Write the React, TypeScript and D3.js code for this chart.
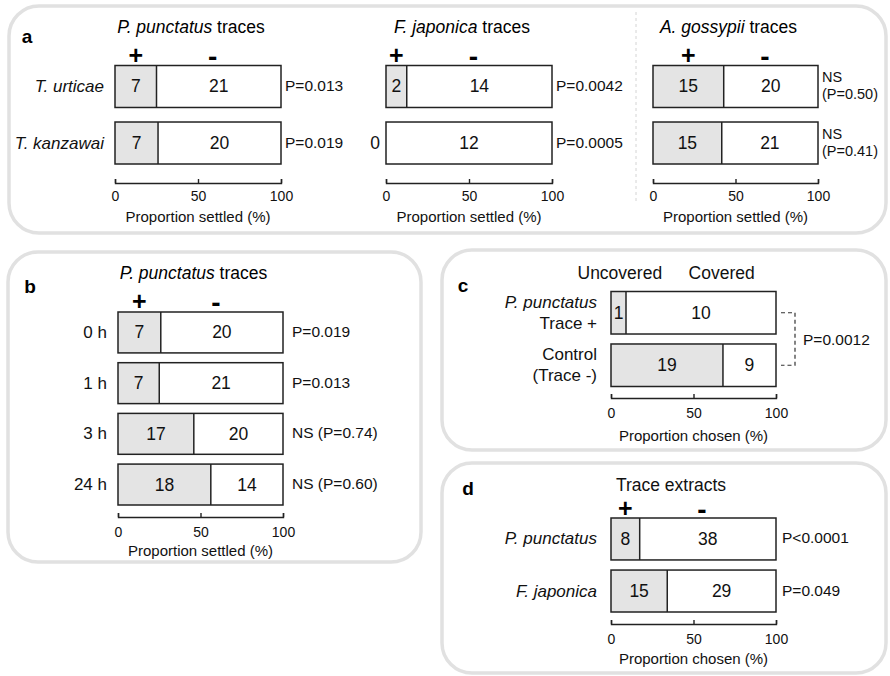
import React, { useEffect, useRef } from 'react';
import * as d3 from 'd3';

const FONT = '"Liberation Sans", Arial, Helvetica, sans-serif';

// panel a: three trace types x two mite species
const aTitles = ['P. punctatus', 'F. japonica', 'A. gossypii'];
const aSpecies = ['T. urticae', 'T. kanzawai'];
const aPlus = [[7, 7], [2, 0], [15, 15]];
const aMinus = [[21, 20], [14, 12], [20, 21]];
const aPvals = [
  [['P=0.013'], ['P=0.019']],
  [['P=0.0042'], ['P=0.0005']],
  [['NS', '(P=0.50)'], ['NS', '(P=0.41)']],
];

// panel b: age of traces
const bTimes = ['0 h', '1 h', '3 h', '24 h'];
const bPlus = [7, 7, 17, 18];
const bMinus = [20, 21, 20, 14];
const bPvals = ['P=0.019', 'P=0.013', 'NS (P=0.74)', 'NS (P=0.60)'];

// panel c: uncovered vs covered
const cRows = [['P. punctatus', 'Trace +'], ['Control', '(Trace -)']];
const cUncovered = [1, 19];
const cCovered = [10, 9];
const cPval = 'P=0.0012';

// panel d: trace extracts
const dRows = ['P. punctatus', 'F. japonica'];
const dPlus = [8, 15];
const dMinus = [38, 29];
const dPvals = ['P<0.0001', 'P=0.049'];

const tickValues = [0, 50, 100];

const STROKE = '#222';
const GREY = '#e4e4e4';

const isSpecies = (s: string) => /^[A-Z]\. [a-z]/.test(s);

function Axis({ x, y, pad }: { x: d3.ScaleLinear<number, number>; y: number; pad: number }) {
  const ref = useRef<SVGGElement>(null);
  useEffect(() => {
    const g = d3.select(ref.current);
    g.selectAll('*').remove();
    g.call(
      d3.axisBottom(x).tickValues(tickValues).tickSizeInner(-4).tickSizeOuter(-4).tickPadding(pad) as any
    );
    g.attr('font-family', null).attr('font-size', null);
    g.select('.domain').attr('stroke', STROKE).attr('stroke-width', 1.4);
    g.selectAll('.tick line').attr('stroke', STROKE).attr('stroke-width', 1.4);
    g.selectAll('.tick text').attr('font-family', FONT).attr('font-size', 14).attr('fill', '#111');
  }, [x, y, pad]);
  return <g ref={ref} transform={`translate(0,${y})`} />;
}

type StackProps = {
  x0: number; x1: number; y0: number; y1: number; pad: number;
  first: number[]; second: number[];
  labels?: string[][]; labelGap?: number; lineGap?: number;
  pvals: string[][]; pGap: number;
  axisY: number; tickPad: number;
  xlabel: string; xlabelY: number;
  signs?: boolean; signY?: number;
  title?: string; titleX?: number; titleY?: number;
  children?: (x: d3.ScaleLinear<number, number>, y: d3.ScaleBand<string>) => React.ReactNode;
};

function Stack(p: StackProps) {
  const x = d3.scaleLinear().domain([0, 100]).range([p.x0, p.x1]);
  const keys = p.first.map((_, i) => String(i));
  const y = d3.scaleBand().domain(keys).range([p.y0, p.y1]).paddingInner(p.pad);
  const h = y.bandwidth();
  const share = (i: number) => (p.first[i] / (p.first[i] + p.second[i])) * 100;
  const lineGap = p.lineGap ?? 21;

  return (
    <g fontFamily={FONT}>
      {p.title && (
        <text x={p.titleX ?? (p.x0 + p.x1) / 2 - 7} y={p.titleY} textAnchor="middle" dominantBaseline="central" fontSize={17.5}>
          <tspan fontStyle="italic">{p.title}</tspan> traces
        </text>
      )}
      {p.signs && (
        <g fontWeight="bold" textAnchor="middle" dominantBaseline="central">
          <text x={(x(0) + x(share(0))) / 2} y={p.signY} fontSize={25}>+</text>
          <text x={(x(share(0)) + x(100)) / 2 - 6} y={p.signY + 1} fontSize={28}>-</text>
        </g>
      )}
      {keys.map((k, i) => {
        const top = y(k)!;
        const cy = top + h / 2;
        const s = share(i);
        const lab = p.labels ? p.labels[i] : [];
        const pv = p.pvals[i];
        return (
          <g key={k}>
            <rect x={x(0)} y={top} width={x(s) - x(0)} height={h} fill={GREY} />
            <rect x={x(s)} y={top} width={x(100) - x(s)} height={h} fill="#fff" />
            <rect x={x(0)} y={top} width={x(100) - x(0)} height={h} fill="none" stroke={STROKE} strokeWidth={1.5} />
            {p.first[i] > 0 && <line x1={x(s)} x2={x(s)} y1={top} y2={top + h} stroke={STROKE} strokeWidth={1.5} />}
            <g fontSize={17.5} dominantBaseline="central" textAnchor="middle" fill="#111">
              {p.first[i] > 0 ? (
                <text x={(x(0) + x(s)) / 2} y={cy}>{p.first[i]}</text>
              ) : (
                <text x={x(0) - 6} y={cy} textAnchor="end">{p.first[i]}</text>
              )}
              <text x={(x(s) + x(100)) / 2} y={cy}>{p.second[i]}</text>
            </g>
            {lab.map((t, j) => (
              <text key={j} x={x(0) - (p.labelGap ?? 11)} y={cy + (j - (lab.length - 1) / 2) * lineGap}
                textAnchor="end" dominantBaseline="central" fontSize={17}
                fontStyle={isSpecies(t) ? 'italic' : 'normal'} fill="#111">{t}</text>
            ))}
            {pv.map((t, j) => (
              <text key={j} x={x(100) + p.pGap} y={cy - 1 + (j - (pv.length - 1) / 2) * 17}
                dominantBaseline="central" fontSize={pv.length > 1 ? 14.5 : 15.5} fill="#111">{t}</text>
            ))}
          </g>
        );
      })}
      <Axis x={x} y={p.axisY} pad={p.tickPad} />
      <text x={(p.x0 + p.x1) / 2} y={p.xlabelY} textAnchor="middle" dominantBaseline="central" fontSize={15} fill="#111">
        {p.xlabel}
      </text>
      {p.children && p.children(x, y)}
    </g>
  );
}

const boxStyle = { fill: 'none', stroke: '#e1e1e1', strokeWidth: 3.5 };

const Letter = ({ x, y, t }: { x: number; y: number; t: string }) => (
  <text x={x} y={y} fontFamily={FONT} fontWeight="bold" fontSize={19} dominantBaseline="central" textAnchor="middle">{t}</text>
);

export default function App() {
  const aX = [[115, 281], [386, 552], [653, 818]];
  return (
    <svg width={890} height={676} style={{ position: 'absolute', left: 0, top: 0, background: '#fff' }}>
      {/* panel frames */}
      <rect x={9} y={6} width={877} height={227} rx={30} {...boxStyle} />
      <rect x={8} y={252} width={413} height={310} rx={30} {...boxStyle} />
      <rect x={442} y={250} width={444} height={200} rx={30} {...boxStyle} />
      <rect x={442} y={463} width={444} height={210} rx={30} {...boxStyle} />
      <line x1={636} x2={636} y1={12} y2={202} stroke="#d4d4d4" strokeDasharray="3,3" strokeWidth={1} />

      <Letter x={27} y={36} t="a" />
      <Letter x={30} y={286} t="b" />
      <Letter x={463} y={285} t="c" />
      <Letter x={468} y={488} t="d" />

      {aTitles.map((t, g) => (
        <Stack key={t} x0={aX[g][0]} x1={aX[g][1]} y0={65.5} y1={164} pad={0.257}
          first={aPlus[g]} second={aMinus[g]}
          labels={g === 0 ? aSpecies.map((s) => [s]) : undefined}
          pvals={aPvals[g]} pGap={4}
          axisY={183} tickPad={8} xlabel="Proportion settled (%)" xlabelY={216}
          signs signY={55} title={t} titleY={27} />
      ))}

      <Stack x0={118} x1={283} y0={312} y1={505} pad={0.193}
        first={bPlus} second={bMinus}
        labels={bTimes.map((s) => [s])}
        pvals={bPvals.map((s) => [s])} pGap={9}
        axisY={517} tickPad={10} xlabel="Proportion settled (%)" xlabelY={550}
        signs signY={301} title="P. punctatus" titleY={273} />

      <Stack x0={611} x1={776} y0={291.5} y1={386.5} pad={0.19}
        first={cUncovered} second={cCovered}
        labels={cRows} labelGap={14}
        pvals={[[], []]} pGap={6}
        axisY={398} tickPad={10} xlabel="Proportion chosen (%)" xlabelY={435}>
        {(x, y) => {
          const c0 = y('0')! + y.bandwidth() / 2;
          const c1 = y('1')! + y.bandwidth() / 2;
          return (
            <g fontFamily={FONT} fontSize={17.5} fill="#111">
              <text x={x(31)} y={273} textAnchor="end" dominantBaseline="central">Uncovered</text>
              <text x={x(47)} y={273} textAnchor="start" dominantBaseline="central">Covered</text>
              <path d={`M${x(100) + 5},${c0}H${x(100) + 19}V${c1}H${x(100) + 5}`} fill="none"
                stroke="#333" strokeWidth={1.2} strokeDasharray="4,3" />
              <text x={x(100) + 27} y={(c0 + c1) / 2} dominantBaseline="central" fontSize={15.5}>{cPval}</text>
            </g>
          );
        }}
      </Stack>

      <Stack x0={611} x1={776} y0={518} y1={612} pad={0.194}
        first={dPlus} second={dMinus}
        labels={dRows.map((s) => [s])} labelGap={14}
        pvals={dPvals.map((s) => [s])} pGap={6}
        axisY={624} tickPad={10} xlabel="Proportion chosen (%)" xlabelY={658}
        signs signY={508} />
      <text x={671} y={485} textAnchor="middle" dominantBaseline="central" fontFamily={FONT} fontSize={17.5} fill="#111">
        Trace extracts
      </text>
    </svg>
  );
}
